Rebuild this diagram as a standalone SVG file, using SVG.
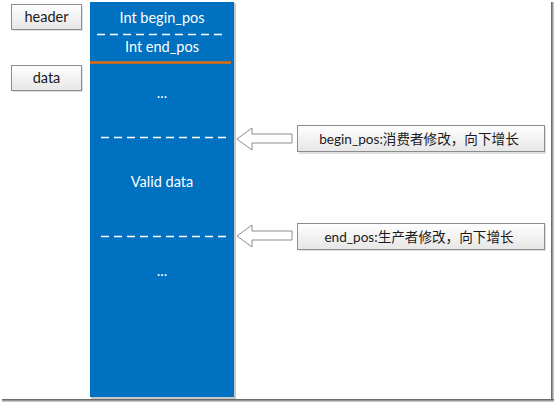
<svg xmlns="http://www.w3.org/2000/svg" width="555" height="404" viewBox="0 0 555 404">
<defs>
<linearGradient id="g" x1="0" y1="0" x2="0" y2="1">
<stop offset="0" stop-color="#ffffff"/>
<stop offset="1" stop-color="#e6e6e6"/>
</linearGradient>
<linearGradient id="fr" x1="0" y1="0" x2="1" y2="0">
<stop offset="0" stop-color="#555"/>
<stop offset="1" stop-color="#ddd"/>
</linearGradient>
<linearGradient id="fb" x1="0" y1="0" x2="0" y2="1">
<stop offset="0" stop-color="#555"/>
<stop offset="1" stop-color="#ddd"/>
</linearGradient>
</defs>
<style>
text{font-family:Lato,"Open Sans","Noto Sans CJK SC",sans-serif;font-size:14.5px;text-anchor:middle}
.w{fill:#ffffff}
.k{fill:#1a1a1a}
.n{font-size:13.6px}
.box{fill:url(#g);stroke:#8c8c8c;stroke-width:1}
.dash{stroke:#ffffff;stroke-width:1.5;stroke-dasharray:8,5;fill:none}
.arr{fill:#ffffff;stroke:#8c8c8c;stroke-width:1}
.sh{fill:#000;opacity:0.12}
</style>
<rect width="555" height="404" fill="#ffffff"/>
<rect x="551" y="2" width="3" height="400" fill="url(#fr)"/>
<rect x="2" y="399" width="552" height="3" fill="url(#fb)"/>

<g id="header">
<rect class="sh" x="13" y="6" width="70" height="25"/>
<rect class="box" x="11.5" y="4.5" width="70" height="25"/>
<text class="k" x="46.5" y="22">header</text>
</g>
<g id="data">
<rect class="sh" x="13" y="67" width="70" height="25"/>
<rect class="box" x="11.5" y="65.5" width="70" height="25"/>
<text class="k" x="46.5" y="83">data</text>
</g>

<g id="buffer">
<rect x="91" y="3" width="145" height="396" fill="#c8c8c8"/>
<rect x="90" y="2" width="144" height="395" fill="#0070c0"/>
<text class="w" x="162" y="23">Int begin_pos</text>
<line class="dash" x1="97" y1="34.5" x2="224" y2="34.5"/>
<text class="w" x="162" y="52">Int end_pos</text>
<line x1="90" y1="62.5" x2="231" y2="62.5" stroke="#e36c0a" stroke-width="2.5"/>
<text class="w" x="162" y="98">...</text>
<line class="dash" x1="101" y1="137.5" x2="229" y2="137.5"/>
<text class="w" x="162" y="187">Valid data</text>
<line class="dash" x1="101" y1="236.5" x2="229" y2="236.5"/>
<text class="w" x="162" y="276">...</text>
</g>

<g id="connectors">
<polygon class="arr" points="237,139 252,128 252,134 292,134 292,143 252,143 252,150"/>
<polygon class="arr" points="237,236 252,225 252,231 292,231 292,240 252,240 252,247"/>
</g>

<g id="begin_note">
<rect class="sh" x="299" y="127" width="247" height="27"/>
<rect class="box" x="297.5" y="125.5" width="247" height="26"/>
<text class="k n" x="419" y="143.5">begin_pos:消费者修改，向下增长</text>
</g>
<g id="end_note">
<rect class="sh" x="299" y="225" width="247" height="26"/>
<rect class="box" x="297.5" y="223.5" width="247" height="26"/>
<text class="k n" x="419" y="241.5">end_pos:生产者修改，向下增长</text>
</g>
</svg>
